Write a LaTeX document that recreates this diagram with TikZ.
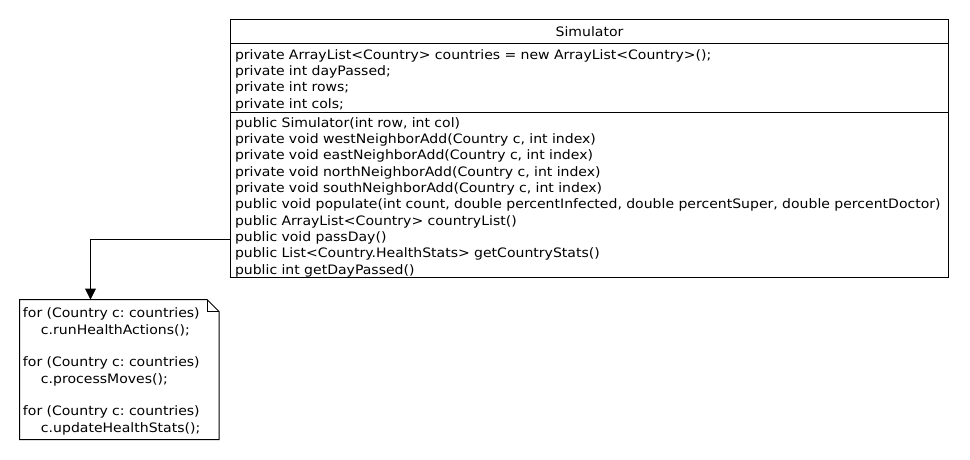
\documentclass[tikz,border=0pt]{standalone}
\usepackage{fontspec}
\setmainfont{DejaVu Sans}[FakeStretch=1.08]
\usepackage{tikz}
\usetikzlibrary{calc,arrows.meta}
\frenchspacing

\begin{document}
\begin{tikzpicture}[x=1pt,y=-1pt,line width=1pt,
	every node/.style={font=\fontsize{13}{16.33}\selectfont},
	umlpart/.style={draw, rectangle, anchor=north, outer sep=0pt, inner xsep=4.5pt, inner ysep=0pt, text width=709pt, align=left},
	toppad/.style={execute at begin node={\rule{0pt}{14pt}}},
	notebox/.style={rectangle, anchor=north west, outer sep=0pt, inner xsep=3.5pt, inner ysep=0pt, text width=192.5pt, minimum height=140pt, align=left}]
			\useasboundingbox (0,0) rectangle (970,460);
			
			% Class box
			\node[umlpart, align=center, minimum height=24pt] (title) at (589.5,19.5) {Simulator};
			\node[umlpart, toppad, minimum height=69pt] (attrs) at (title.south) {%
				private ArrayList<Country> countries = new ArrayList<Country>();\\
				private int dayPassed;\\
				private int rows;\\
				private int cols;};
			\node[umlpart, toppad, minimum height=165pt] (methods) at (attrs.south) {%
				public Simulator(int row, int col)\\
				private void westNeighborAdd(Country c, int index)\\
				private void eastNeighborAdd(Country c, int index)\\
				private void northNeighborAdd(Country c, int index)\\
				private void southNeighborAdd(Country c, int index)\\
				public void populate(int count, double percentInfected, double percentSuper, double percentDoctor)\\
				public ArrayList<Country> countryList()\\
				public void passDay()\\
				public List<Country.HealthStats> getCountryStats()\\
				public int getDayPassed()};
			
			% Note with folded corner
			\node[notebox, toppad] (note) at (19.5,299.5) {%
				for (Country c: countries)\\
				\hspace*{18pt}c.runHealthActions();\\[\baselineskip]
				for (Country c: countries)\\
				\hspace*{18pt}c.processMoves();\\[\baselineskip]
				for (Country c: countries)\\
				\hspace*{18pt}c.updateHealthStats();};
			\coordinate (fold) at ($(note.north east)+(-12,0)$);
			\coordinate (foldend) at ($(note.north east)+(0,12)$);
			\draw (note.north west) -- (fold) -- (foldend) -- (note.south east) -- (note.south west) -- cycle;
			\draw (fold) -- ($(fold)+(0,12)$) -- (foldend);
			
			% Connector from passDay() to the note
			\coordinate (start) at ($(methods.south west)+(0,-38)$);
			\coordinate (end) at ($(note.north west)+(71,0)$);
			\draw[-{Triangle[length=11pt,width=11pt]}] (start) -| (end);
			
		\end{tikzpicture}
\end{document}
